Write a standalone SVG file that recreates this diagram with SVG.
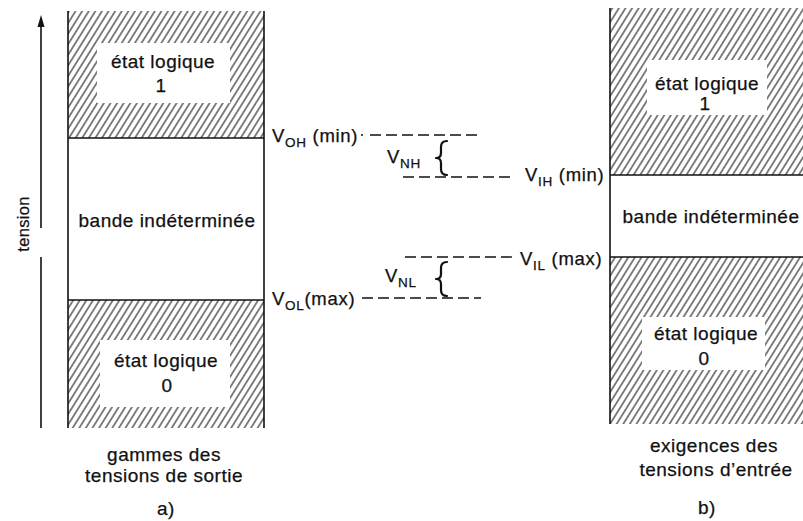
<svg xmlns="http://www.w3.org/2000/svg" width="803" height="521" viewBox="0 0 803 521">
  <defs>
    <!-- diagonal hatching for the logic-state ranges -->
    <pattern id="hatch" patternUnits="userSpaceOnUse" width="5.6" height="6" patternTransform="rotate(32)">
      <line x1="2.8" y1="-1" x2="2.8" y2="7" stroke="#111" stroke-width="1.05"/>
    </pattern>
  </defs>
  <style>
    .lbl { font-family: "Liberation Sans", Arial, sans-serif; font-size: 19px; fill: #111; stroke: #111; stroke-width: 0.25px; letter-spacing: 0.5px; }
    .mid { font-family: "Liberation Sans", Arial, sans-serif; font-size: 18.5px; fill: #111; stroke: #111; stroke-width: 0.25px; letter-spacing: 0.7px; }
    .sub { font-size: 13.5px; }
    .c { text-anchor: middle; }
    .edge { stroke: #111; stroke-width: 1.6; fill: none; }
    .dash { stroke: #111; stroke-width: 1.4; stroke-dasharray: 11 5; fill: none; }
    .brace { stroke: #111; stroke-width: 2.2; fill: none; stroke-linecap: round; stroke-linejoin: round; }
    .hole { fill: #fff; }
  </style>

  <rect width="803" height="521" fill="#fff"/>

  <!-- voltage axis -->
  <g id="axis">
    <line x1="41" y1="228" x2="41" y2="24" class="edge"/>
    <polygon points="41,15 37.5,27 44.5,27" fill="#111"/>
    <line x1="41" y1="257" x2="41" y2="428" class="edge"/>
    <text class="lbl" transform="translate(29,224) rotate(-90)" text-anchor="middle" style="font-size:16.5px;letter-spacing:0.3px">tension</text>
  </g>

  <!-- a) output voltage ranges -->
  <g id="output-high">
    <rect x="68" y="11" width="196" height="127" fill="url(#hatch)"/>
    <rect class="hole" x="97" y="43" width="133" height="60"/>
    <text class="lbl c" x="163" y="68">état logique</text>
    <text class="lbl c" x="161" y="92">1</text>
  </g>
  <g id="output-undefined">
    <text class="lbl c" x="167" y="227">bande indéterminée</text>
  </g>
  <g id="output-low">
    <rect x="68" y="300" width="196" height="128" fill="url(#hatch)"/>
    <rect class="hole" x="100" y="340" width="130" height="67"/>
    <text class="lbl c" x="166" y="367">état logique</text>
    <text class="lbl c" x="167" y="392">0</text>
  </g>
  <g id="output-frame">
    <line x1="68" y1="11" x2="68" y2="428" class="edge"/>
    <line x1="264" y1="11" x2="264" y2="428" class="edge"/>
    <line x1="68" y1="138" x2="264" y2="138" class="edge"/>
    <line x1="68" y1="300" x2="264" y2="300" class="edge"/>
  </g>
  <g id="output-caption">
    <text class="lbl c" x="164" y="461">gammes des</text>
    <text class="lbl c" x="164" y="482">tensions de sortie</text>
    <text class="lbl c" x="166" y="515">a)</text>
  </g>

  <!-- b) input voltage requirements -->
  <g id="input-high">
    <rect x="610" y="8" width="200" height="167" fill="url(#hatch)"/>
    <rect class="hole" x="647" y="60" width="120" height="55"/>
    <text class="lbl c" x="707" y="90">état logique</text>
    <text class="lbl c" x="705" y="110">1</text>
  </g>
  <g id="input-undefined">
    <text class="lbl c" x="711" y="223">bande indéterminée</text>
  </g>
  <g id="input-low">
    <rect x="610" y="257" width="200" height="167" fill="url(#hatch)"/>
    <rect class="hole" x="642" y="317" width="123" height="53"/>
    <text class="lbl c" x="706" y="340">état logique</text>
    <text class="lbl c" x="704" y="365">0</text>
  </g>
  <g id="input-frame">
    <line x1="610" y1="8" x2="610" y2="424" class="edge"/>
    <line x1="610" y1="175" x2="803" y2="175" class="edge"/>
    <line x1="610" y1="257" x2="803" y2="257" class="edge"/>
  </g>
  <g id="input-caption">
    <text class="lbl c" x="714" y="452">exigences des</text>
    <text class="lbl c" x="716" y="476">tensions d’entrée</text>
    <text class="lbl c" x="707" y="514">b)</text>
  </g>

  <!-- threshold labels -->
  <g id="label-voh">
    <text class="mid" x="272" y="142">V<tspan class="sub" dy="5">OH</tspan><tspan dy="-5"> (min)</tspan></text>
  </g>
  <g id="label-vih">
    <text class="mid" x="525" y="181">V<tspan class="sub" dy="5">IH</tspan><tspan dy="-5"> (min)</tspan></text>
  </g>
  <g id="label-vil">
    <text class="mid" x="520" y="265">V<tspan class="sub" dy="5">IL</tspan><tspan dy="-5"> (max)</tspan></text>
  </g>
  <g id="label-vol">
    <text class="mid" x="272" y="305">V<tspan class="sub" dy="5">OL</tspan><tspan dy="-5">(max)</tspan></text>
  </g>
  <g id="label-vnh">
    <text class="mid" x="387" y="163">V<tspan class="sub" dy="5">NH</tspan></text>
    <path class="brace" d="M447,141 Q441,141 441,147 L441,153 Q441,158 436,158 Q441,158 441,163 L441,169 Q441,175 447,175"/>
  </g>
  <g id="label-vnl">
    <text class="mid" x="385" y="282">V<tspan class="sub" dy="5">NL</tspan></text>
    <path class="brace" d="M447,262 Q441,262 441,268 L441,274 Q441,279 436,279 Q441,279 441,284 L441,290 Q441,296 447,296"/>
  </g>

  <!-- dashed threshold levels -->
  <g id="connectors">
    <line x1="361" y1="135" x2="363" y2="135" class="edge"/>
    <line x1="370" y1="135" x2="478" y2="135" class="dash"/>
    <line x1="403" y1="177" x2="513" y2="177" class="dash"/>
    <line x1="405" y1="257" x2="512" y2="257" class="dash"/>
    <line x1="362" y1="298" x2="481" y2="298" class="dash"/>
  </g>
</svg>
